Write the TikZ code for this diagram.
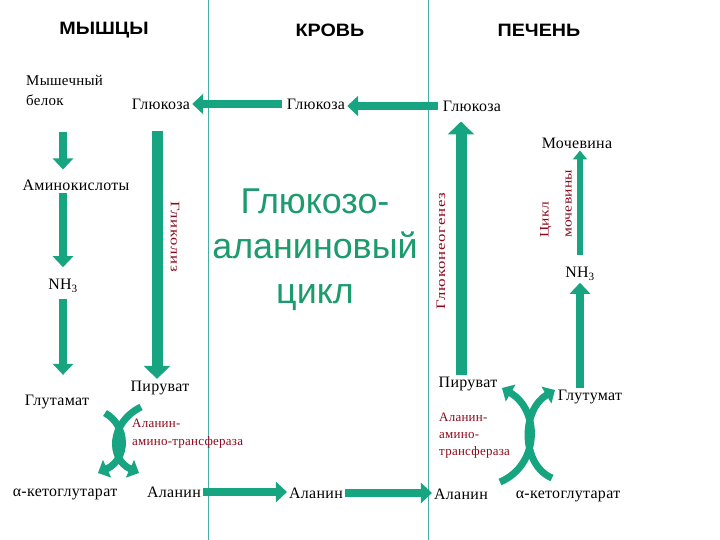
\documentclass[tikz,border=0pt]{standalone}
\usepackage{fontspec}
\setmainfont{Liberation Serif}[LetterSpace=2]
\newfontfamily\arialfont{Liberation Sans}
\newfontfamily\headfont{Liberation Sans}[FakeStretch=1.1]
\newfontfamily\spacedfont{Liberation Serif}[FakeStretch=1.3,LetterSpace=6]
\newfontfamily\ureafont{Liberation Serif}[FakeStretch=1.2,LetterSpace=2]
\usetikzlibrary{arrows.meta,calc}
\definecolor{arrgreen}{RGB}{22,165,128}
\definecolor{titlegreen}{RGB}{28,155,110}
\definecolor{enzred}{RGB}{140,10,30}
\definecolor{sepline}{RGB}{70,175,165}

\begin{document}
\begin{tikzpicture}[x=1bp,y=-1bp,
  fat/.style={draw=arrgreen,line width=8bp,-{Triangle[width=20bp,length=11bp]}},
  wide/.style={fat,line width=11bp,-{Triangle[width=26bp,length=13bp]}},
  curv/.style={draw=arrgreen,line width=7bp,-{Triangle[width=19bp,length=10bp]}},
  lbl/.style={inner sep=2bp,font=\fontsize{16}{20}\selectfont},
  enz/.style={inner sep=1bp,text=enzred,font=\fontsize{13}{18}\selectfont},
  head/.style={font=\headfont\bfseries\fontsize{18}{20}\selectfont}]
  \useasboundingbox[fill=white] (0,0) rectangle (720,540);
  \draw[sepline] (208,0) -- (208,540) (428,0) -- (428,540);
  \foreach \x/\n/\t in {104/mus/МЫШЦЫ,330/blood/КРОВЬ,539/liver/ПЕЧЕНЬ}
  {
    \node[head] (\n) at (\x,30) {\t};
  }
  % muscle
  \node[lbl,align=left,anchor=west,font=\fontsize{15}{20}\selectfont] (belok) at (24,90) {Мышечный\\белок};
  \node[lbl] (glc1) at (161,104) {Глюкоза};
  \node[lbl] (amino) at (76,185) {Аминокислоты};
  \node[lbl] (nh3L) at (63,286) {NH\textsubscript{3}};
  \node[lbl] (glutL) at (57,402) {Глутамат};
  \node[lbl] (pyrL) at (160,388) {Пируват};
  \node[lbl] (akgL) at (65,494) {α-кетоглутарат};
  \node[lbl] (alaL) at (174,492) {Аланин};
  \node[enz,align=left,anchor=north west] (altL) at (131,418) {Аланин-\\амино-трансфераза};
  \node[enz,rotate=-90,font=\spacedfont\fontsize{13}{18}\selectfont] (glycol) at (175,237) {Гликолиз};
  % blood
  \node[lbl] (glc2) at (316,104) {Глюкоза};
  \node[lbl] (alaM) at (316,493) {Аланин};
  \node[text=titlegreen,font=\arialfont\fontsize{36}{45}\selectfont,align=center] (cycle) at (315,250) {Глюкозо-\\аланиновый\\цикл};
  % liver
  \node[lbl] (glc3) at (472,106) {Глюкоза};
  \node[lbl] (urea) at (577,143) {Мочевина};
  \node[lbl] (nh3R) at (580,274) {NH\textsubscript{3}};
  \node[lbl] (pyrR) at (468,384) {Пируват};
  \node[lbl] (glutR) at (590,397) {Глутумат};
  \node[lbl] (alaR) at (461,494) {Аланин};
  \node[lbl] (akgR) at (568,496) {α-кетоглутарат};
  \node[enz,align=left,anchor=north west,font=\fontsize{13}{17}\selectfont] (altR) at (438,412) {Аланин-\\амино-\\трансфераза};
  \node[enz,rotate=90,font=\spacedfont\fontsize{13}{18}\selectfont] (gng) at (441,251) {Глюконеогенез};
  \node[enz,rotate=90,anchor=west,align=left,font=\ureafont\fontsize{13}{23}\selectfont] (ucyc) at (556,239) {Цикл\\мочевины};

  \draw[fat,shorten <=3bp] (glc2.west) -- (glc1.east |- glc2.west);
  \draw[fat,shorten <=3bp] (glc3.west) -- (glc2.east |- glc3.west);
  \draw[fat,shorten <=25bp,shorten >=8bp] (belok.south -| nh3L) -- (amino.north -| nh3L);
  \draw[fat,shorten >=10bp] (amino.south -| nh3L) -- (nh3L);
  \draw[fat,shorten <=4bp,shorten >=18bp] (nh3L) -- (glutL.north -| nh3L);
  \draw[wide,shorten <=20bp] ([xshift=-4bp]glc1.south) -- ([xshift=-4bp]glc1.south |- pyrL.north);
  \draw[wide,shorten >=8bp] ([xshift=-7bp]pyrR.north) -- ([xshift=-7bp]pyrR.north |- glc3.south);
  \draw[fat] (glutR.north -| nh3R) -- (nh3R);
  \draw[fat,line width=6bp,-{Triangle[width=14bp,length=9bp]},shorten <=10bp] (nh3R.north) -- (urea.south -| nh3R.north);
  \draw[fat] (alaL.east) -- (alaM.west |- alaL.east);
  \draw[fat] (alaM.east) -- (alaR.west |- alaM.east);

  \coordinate (xL) at (119,441);
  \draw[curv] ($(xL)+(-14,-28)$) .. controls ($(xL)+(9,-15)$) and ($(xL)+(9,18)$) .. ($(xL)+(-21,32)$);
  \draw[curv] ($(xL)+(22,-34)$) .. controls ($(xL)+(-10,-18)$) and ($(xL)+(-10,18)$) .. ($(xL)+(20,32)$);
  \coordinate (xR) at (530,440);
  \draw[curv] ($(xR)+(-30,42)$) .. controls ($(xR)+(10,25)$) and ($(xR)+(10,-30)$) .. ($(xR)+(-28,-52)$);
  \draw[curv] ($(xR)+(22,38)$) .. controls ($(xR)+(-9,25)$) and ($(xR)+(-9,-30)$) .. ($(xR)+(25,-50)$);
\end{tikzpicture}
\end{document}
